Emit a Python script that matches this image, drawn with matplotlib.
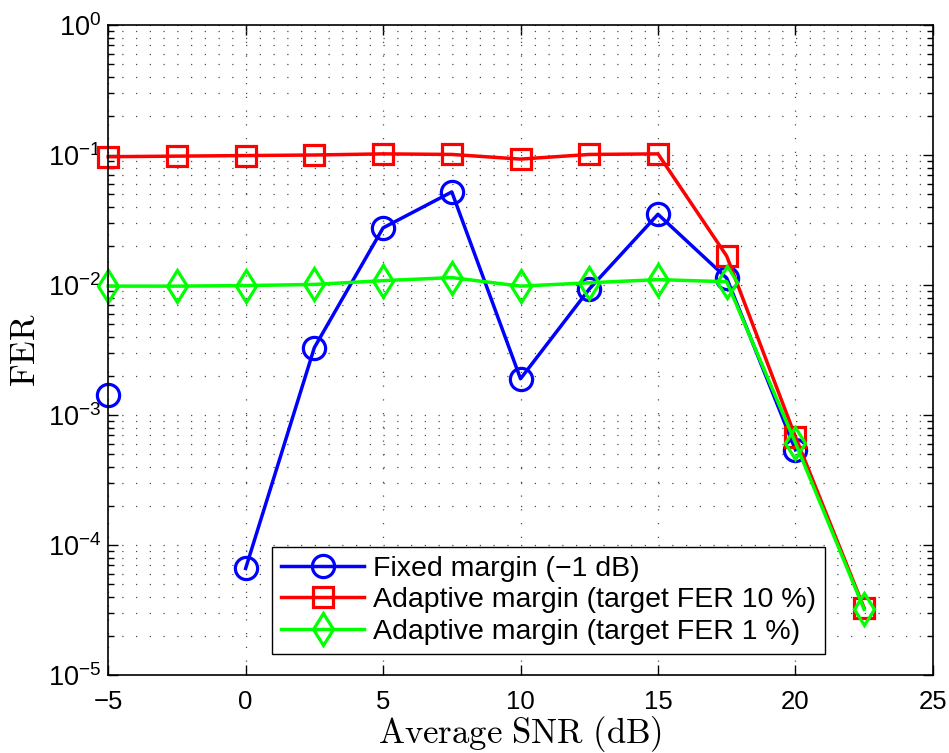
#!/usr/bin/env python3
import numpy as np
import matplotlib
matplotlib.use("Agg")
import matplotlib.pyplot as plt
from matplotlib.ticker import LogLocator, NullFormatter

# average SNR (dB)
snr = [-5, -2.5, 0, 2.5, 5, 7.5, 10, 12.5, 15, 17.5, 20, 22.5]

# FER values (nan = point not shown)
fer_fixed = [1.43e-3, np.nan, 6.6e-5, 3.3e-3, 2.75e-2, 5.2e-2, 1.9e-3, 9.3e-3, 3.5e-2, 1.13e-2, 5.4e-4, np.nan]
fer_adapt10 = [0.097, 0.098, 0.099, 0.100, 0.102, 0.101, 0.093, 0.101, 0.102, 0.0167, 6.8e-4, 3.27e-5]
fer_adapt1 = [0.0098, 0.0098, 0.0099, 0.0101, 0.0108, 0.0114, 0.0098, 0.0104, 0.0110, 0.0106, 6.1e-4, 3.2e-5]

labels = ["Fixed margin (\u22121 dB)",
          "Adaptive margin (target FER 10 %)",
          "Adaptive margin (target FER 1 %)"]

plt.rcParams['font.family'] = ['Liberation Sans', 'DejaVu Sans']
# tick label exponents in the same sans font as the other tick labels
plt.rcParams['mathtext.fontset'] = 'custom'
plt.rcParams['mathtext.rm'] = 'Liberation Sans'
plt.rcParams['mathtext.it'] = 'Liberation Sans:italic'
plt.rcParams['mathtext.bf'] = 'Liberation Sans:bold'

fig = plt.figure(figsize=(9.49, 7.53), dpi=100)
ax = fig.add_axes([0.114, 0.1036, 0.869, 0.8632])

lw = 2.5
mew = 2.3
ax.plot(snr, fer_fixed, '-o', color='#0000ff', lw=lw, ms=16, mew=mew, mfc='none',
        label=labels[0], clip_on=False)
ax.plot(snr, fer_adapt10, '-s', color='#ff0000', lw=lw, ms=14, mew=mew, mfc='none',
        label=labels[1], clip_on=False)
ax.plot(snr, fer_adapt1, '-d', color='#00ff00', lw=lw, ms=16.5, mew=mew, mfc='none',
        label=labels[2], clip_on=False)

ax.set_yscale('log')
ax.set_xlim(-5, 25)
ax.set_ylim(1e-5, 1)
ax.set_xticks([-5, 0, 5, 10, 15, 20, 25])
ax.set_xticklabels(['\u22125', '0', '5', '10', '15', '20', '25'])
ax.yaxis.set_major_locator(LogLocator(base=10, numticks=10))
ax.yaxis.set_minor_locator(LogLocator(base=10, subs=np.arange(2, 10), numticks=20))
ax.yaxis.set_minor_formatter(NullFormatter())

ax.tick_params(which='both', direction='in', top=True, right=True, labelsize=18.5)
ax.tick_params(axis='x', pad=11)
ax.tick_params(axis='y', pad=5, labelsize=19.5)
ax.tick_params(which='major', length=7, width=1)
ax.tick_params(which='minor', length=4, width=1)

dots = (0, (1, 10))
ax.grid(True, which='major', linestyle=dots, color='0.3', linewidth=0.9)
ax.grid(True, which='minor', axis='y', linestyle=dots, color='0.3', linewidth=0.9)

for sp in ax.spines.values():
    sp.set_linewidth(1.2)

ax.set_xlabel(r'$\mathrm{Average\ SNR\ (dB)}$', fontsize=25, math_fontfamily='cm', labelpad=0)
ax.set_ylabel(r'$\mathrm{FER}$', fontsize=25, math_fontfamily='cm', labelpad=4)

leg = ax.legend(loc='lower left', bbox_to_anchor=(0.199, 0.032), fontsize=20.5,
                fancybox=False, framealpha=1, edgecolor='black',
                handlelength=2.9, borderpad=0.32, labelspacing=0.2, handletextpad=0.3,
                borderaxespad=0)
leg.get_frame().set_linewidth(1.0)

fig.savefig('out.png', dpi=100)
